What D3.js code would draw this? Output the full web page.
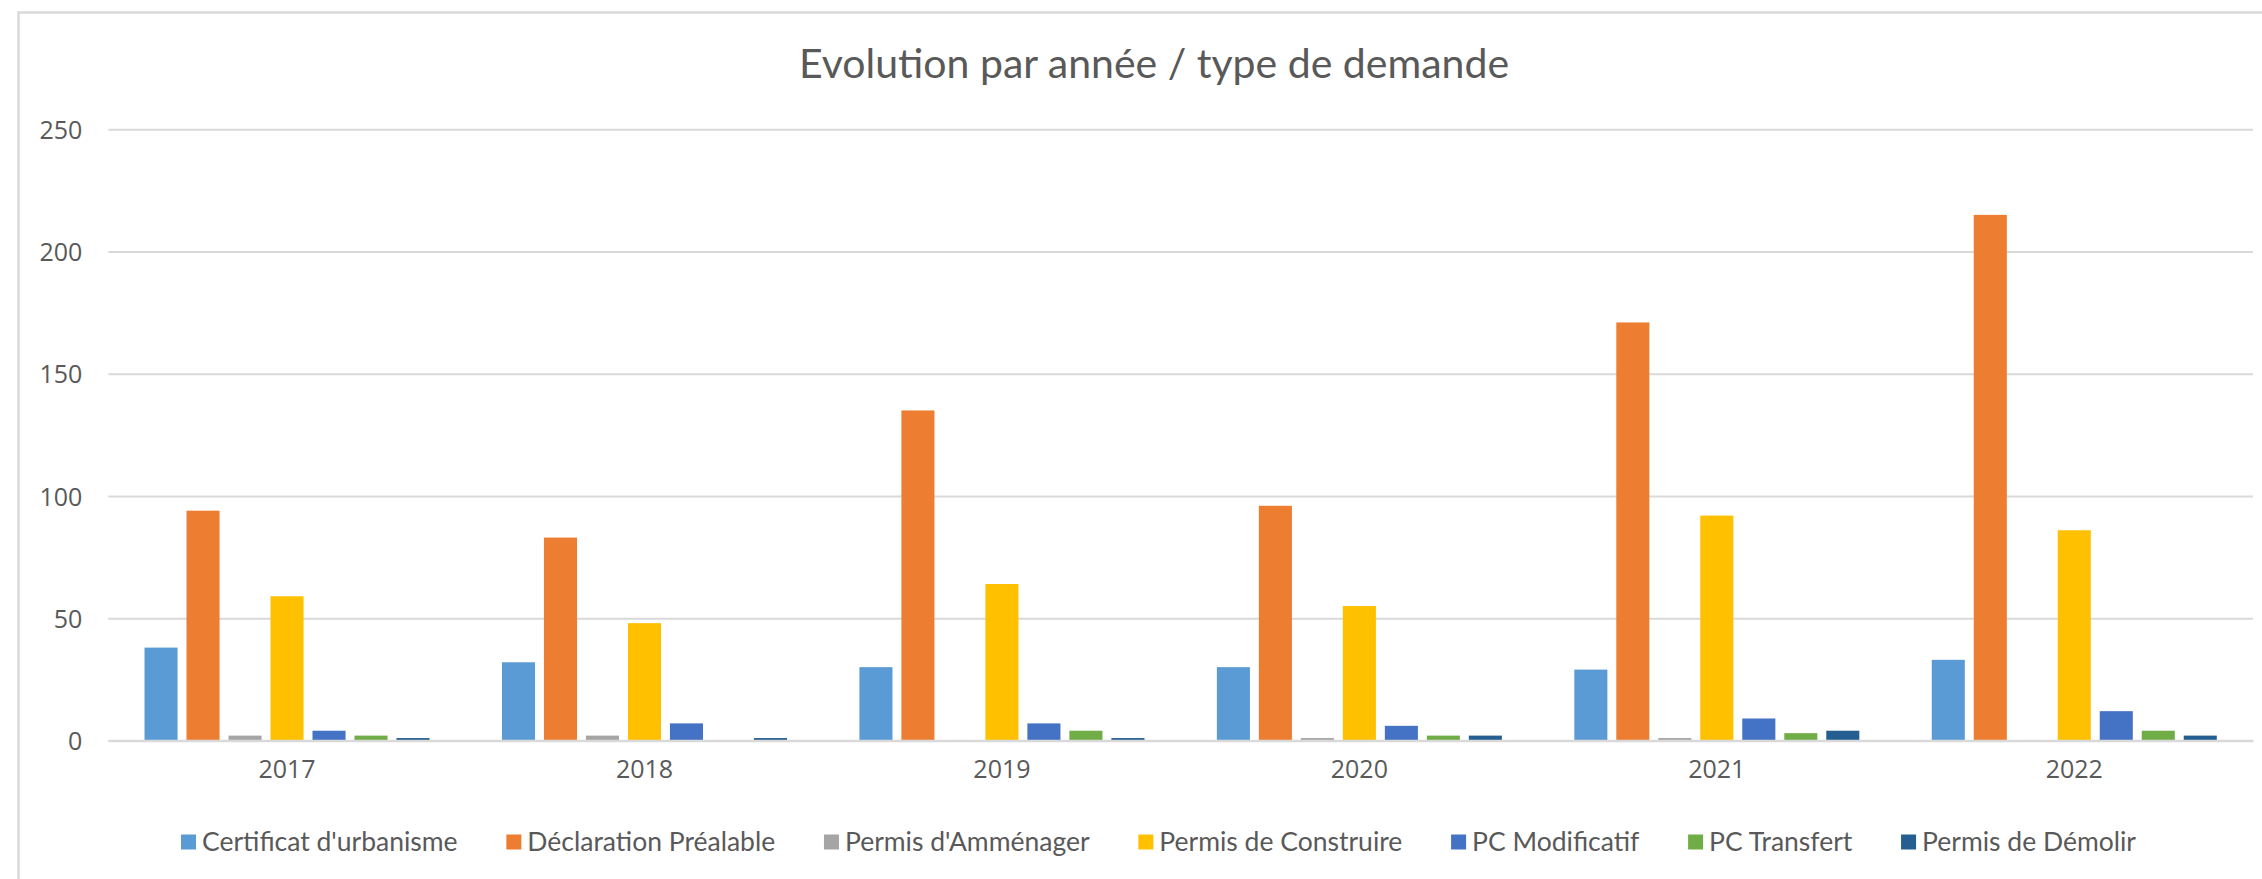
<!DOCTYPE html>
<html>
<head>
<meta charset="utf-8">
<script src="https://cdn.jsdelivr.net/npm/d3@7"></script>
<style>
  html, body { margin: 0; padding: 0; background: #ffffff; }
  svg { display: block; }
</style>
</head>
<body>
<svg id="chart" width="2262" height="879"></svg>
<script>
// ---------- DATA ----------
const title = "Evolution par année / type de demande";
const years = ["2017", "2018", "2019", "2020", "2021", "2022"];
const seriesNames = [
  "Certificat d'urbanisme",
  "Déclaration Préalable",
  "Permis d'Amménager",
  "Permis de Construire",
  "PC Modificatif",
  "PC Transfert",
  "Permis de Démolir"
];
const certificatUrbanisme = [38, 32, 30, 30, 29, 33];
const declarationPrealable = [94, 83, 135, 96, 171, 215];
const permisAmmenager = [2, 2, 0, 1, 1, 0];
const permisConstruire = [59, 48, 64, 55, 92, 86];
const pcModificatif = [4, 7, 7, 6, 9, 12];
const pcTransfert = [2, 0, 4, 2, 3, 4];
const permisDemolir = [1, 1, 1, 2, 4, 2];
const yTicks = [0, 50, 100, 150, 200, 250];
const seriesColors = ["#5B9BD5", "#ED7D31", "#A5A5A5", "#FFC000", "#4472C4", "#70AD47", "#255E91"];

const seriesValues = [certificatUrbanisme, declarationPrealable, permisAmmenager,
  permisConstruire, pcModificatif, pcTransfert, permisDemolir];

// ---------- LAYOUT ----------
const W = 2262, H = 879;
const plot = { left: 108.3, right: 2253, top: 129.3, bottom: 740.5 };
const textColor = "#595959";
const gridColor = "#d9d9d9";

const svg = d3.select("#chart");

svg.append("rect").attr("x", 0).attr("y", 0).attr("width", W).attr("height", H).attr("fill", "#ffffff");
// chart frame
svg.append("rect")
  .attr("x", 18.5).attr("y", 12.5)
  .attr("width", W + 10).attr("height", H + 10)
  .attr("fill", "none").attr("stroke", gridColor).attr("stroke-width", 2.5);

// title
svg.append("text")
  .attr("x", 1154).attr("y", 78)
  .attr("text-anchor", "middle")
  .attr("font-family", "Lato, 'Open Sans', sans-serif")
  .attr("font-size", 41)
  .attr("fill", textColor)
  .text(title);

// scales
const y = d3.scaleLinear().domain([0, 250]).range([plot.bottom, plot.top]);
const x0 = d3.scaleBand().domain(years).range([plot.left, plot.right]).paddingInner(0).paddingOuter(0);
const B = x0.bandwidth();
const w = B / (7 + 6 * 0.27 + 2.19);
const x1 = d3.scaleBand().domain(seriesNames)
  .range([1.095 * w, B - 1.095 * w])
  .paddingInner(0.27 / 1.27).paddingOuter(0);

// gridlines
const yAxis = d3.axisLeft(y).tickValues(yTicks).tickSize(-(plot.right - plot.left)).tickPadding(26).tickFormat(d3.format("d"));
const gy = svg.append("g").attr("transform", `translate(${plot.left},0)`).call(yAxis);
gy.select(".domain").remove();
gy.selectAll(".tick line").attr("stroke", gridColor).attr("stroke-width", 2);
gy.selectAll(".tick text")
  .attr("fill", textColor)
  .attr("font-family", "'Open Sans', sans-serif")
  .attr("font-size", 25)
  .attr("dy", "0.36em");

// bars
const groups = svg.append("g").selectAll("g")
  .data(years)
  .join("g")
  .attr("transform", d => `translate(${x0(d)},0)`);

groups.selectAll("rect")
  .data((yr, i) => seriesNames.map((s, k) => ({ s, k, v: seriesValues[k][i] })))
  .join("rect")
  .attr("x", d => x1(d.s))
  .attr("width", x1.bandwidth())
  .attr("y", d => y(d.v))
  .attr("height", d => y(0) - y(d.v))
  .attr("fill", d => seriesColors[d.k]);

// x axis line + labels
const xAxis = d3.axisBottom(x0).tickSize(0).tickPadding(30);
const gx = svg.append("g").attr("transform", `translate(0,${plot.bottom})`).call(xAxis);
gx.select(".domain").attr("stroke", gridColor).attr("stroke-width", 2.5);
gx.selectAll(".tick text")
  .attr("fill", textColor)
  .attr("font-family", "'Open Sans', sans-serif")
  .attr("font-size", 25)
  .attr("dy", "0.3em");

// legend
const legendLeft = 181, legendRight = 2136;
const legend = svg.append("g");
const items = legend.selectAll("g").data(seriesNames).join("g");
items.append("rect")
  .attr("width", 15).attr("height", 15)
  .attr("y", 834.5)
  .attr("fill", (d, i) => seriesColors[i]);
items.append("text")
  .attr("x", 21).attr("y", 850.5)
  .attr("font-family", "Lato, 'Open Sans', sans-serif")
  .attr("font-size", 26.5)
  .attr("fill", textColor)
  .text(d => d);

function layoutLegend() {
  const widths = [];
  items.each(function () { widths.push(21 + d3.select(this).select("text").node().getComputedTextLength()); });
  const gap = (legendRight - legendLeft - d3.sum(widths)) / (widths.length - 1);
  let cx = legendLeft;
  items.attr("transform", (d, i) => { const t = `translate(${cx},0)`; cx += widths[i] + gap; return t; });
}
layoutLegend();
if (document.fonts && document.fonts.ready) document.fonts.ready.then(layoutLegend);
</script>
</body>
</html>
